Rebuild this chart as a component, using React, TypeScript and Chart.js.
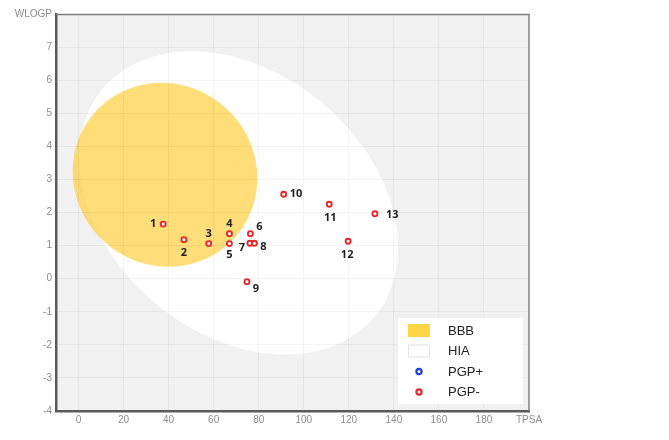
import React, { useEffect, useRef } from "react";
import { Chart, registerables } from "chart.js";

Chart.register(...registerables);

// ---- data ----
const COMPOUNDS = ["1", "2", "3", "4", "5", "6", "7", "8", "9", "10", "11", "12", "13"];
const TPSA = [37.6, 46.8, 57.8, 67.0, 67.0, 76.3, 76.1, 78.1, 74.8, 91.1, 111.3, 119.7, 131.6];
const WLOGP = [1.65, 1.18, 1.06, 1.36, 1.06, 1.36, 1.07, 1.07, -0.09, 2.55, 2.25, 1.13, 1.96];
const PGP_PLUS: { x: number; y: number }[] = [];

const X_TICKS = [0, 20, 40, 60, 80, 100, 120, 140, 160, 180, 200];
const X_TITLE_TICK = 200;
const Y_TITLE_TICK = 8;

// egg regions (center + two conjugate semi-axis vectors, data units)
const HIA_CENTER = [71.05, 2.29];
const HIA_U = [60.3, -3.45];
const HIA_V = [-37.2, -3.02];
const BBB_CENTER = [38.4, 3.14];
const BBB_U = [41.0, -0.106];
const BBB_V = [0, 2.78];

const LEGEND_LABELS = ["BBB", "HIA", "PGP+", "PGP-"];

// label placement (style): [dx, dy, align]
const LABEL_OFFSETS: [number, number, CanvasTextAlign][] = [
  [-10, 0, "center"],
  [0, 13, "center"],
  [0, -10, "center"],
  [0, -10, "center"],
  [0, 11, "center"],
  [9, -7, "center"],
  [-8, 5, "center"],
  [9, 4, "center"],
  [9, 7, "center"],
  [6, 0, "left"],
  [1, 14, "center"],
  [-1, 14, "center"],
  [11, 1, "left"],
];

const RED = "#e8262a";
const BLUE = "#1f3fe0";
const YOLK = "rgba(255, 204, 51, 0.66)";
const TICK_FONT = { family: "'Liberation Sans', Arial, sans-serif", size: 10 };

function drawEllipse(ctx: CanvasRenderingContext2D, xs: any, ys: any, c: number[], u: number[], v: number[], fill: string) {
  const cx = xs.getPixelForValue(c[0]);
  const cy = ys.getPixelForValue(c[1]);
  const ux = xs.getPixelForValue(c[0] + u[0]) - cx;
  const uy = ys.getPixelForValue(c[1] + u[1]) - cy;
  const vx = xs.getPixelForValue(c[0] + v[0]) - cx;
  const vy = ys.getPixelForValue(c[1] + v[1]) - cy;
  ctx.save();
  ctx.beginPath();
  ctx.transform(ux, uy, vx, vy, cx, cy);
  ctx.arc(0, 0, 1, 0, Math.PI * 2);
  ctx.restore();
  ctx.fillStyle = fill;
  ctx.fill();
}

const eggPlugin = {
  id: "egg",
  beforeDraw(chart: any) {
    const { ctx, chartArea: a, scales } = chart;
    ctx.save();
    ctx.fillStyle = "#f1f1f1";
    ctx.fillRect(a.left, a.top, a.right - a.left, a.bottom - a.top);
    ctx.beginPath();
    ctx.rect(a.left, a.top, a.right - a.left, a.bottom - a.top);
    ctx.clip();
    drawEllipse(ctx, scales.x, scales.y, HIA_CENTER, HIA_U, HIA_V, "#ffffff");
    drawEllipse(ctx, scales.x, scales.y, BBB_CENTER, BBB_U, BBB_V, YOLK);
    ctx.restore();
  },
  afterDatasetsDraw(chart: any) {
    const { ctx } = chart;
    const meta = chart.getDatasetMeta(0);
    ctx.save();
    ctx.font = "bold 11px 'Open Sans', 'DejaVu Sans', sans-serif";
    ctx.fillStyle = "#1e1e1e";
    ctx.textBaseline = "middle";
    meta.data.forEach((pt: any, i: number) => {
      const [dx, dy, align] = LABEL_OFFSETS[i];
      ctx.textAlign = align;
      ctx.fillText(COMPOUNDS[i], pt.x + dx, pt.y + dy);
    });
    ctx.restore();
  },
  afterDraw(chart: any) {
    const { ctx, chartArea: a } = chart;
    ctx.save();
    // top & right frame
    ctx.strokeStyle = "#808080";
    ctx.lineWidth = 1.5;
    ctx.beginPath();
    ctx.moveTo(a.left, a.top + 0.5);
    ctx.lineTo(a.right, a.top + 0.5);
    ctx.lineTo(a.right, a.bottom);
    ctx.stroke();

    // legend
    const w = 125, h = 86;
    const bx = a.right - 6 - w;
    const by = a.bottom - 7 - h;
    ctx.fillStyle = "#ffffff";
    ctx.fillRect(bx, by, w, h);
    const rowY = (i: number) => by + 12.5 + i * 20.5;
    const sx = bx + 10;
    ctx.fillStyle = "#ffd445";
    ctx.fillRect(sx, rowY(0) - 6.5, 22, 13);
    ctx.fillStyle = "#ffffff";
    ctx.fillRect(sx, rowY(1) - 6.5, 22, 13);
    ctx.strokeStyle = "#e2e2e2";
    ctx.lineWidth = 1;
    ctx.strokeRect(sx + 0.5, rowY(1) - 6, 21, 12);
    [BLUE, RED].forEach((col, k) => {
      ctx.beginPath();
      ctx.arc(sx + 11, rowY(2 + k), 2.6, 0, Math.PI * 2);
      ctx.fillStyle = "#ffffff";
      ctx.fill();
      ctx.strokeStyle = col;
      ctx.lineWidth = 2.2;
      ctx.stroke();
    });
    ctx.font = "13px 'Liberation Sans', Arial, sans-serif";
    ctx.fillStyle = "#222222";
    ctx.textAlign = "left";
    ctx.textBaseline = "middle";
    LEGEND_LABELS.forEach((t, i) => ctx.fillText(t, bx + 50, rowY(i) + 0.5));
    ctx.restore();
  },
};

export default function App() {
  const ref = useRef<HTMLCanvasElement | null>(null);
  useEffect(() => {
    if (!ref.current) return;
    const chart = new Chart(ref.current, {
      type: "scatter",
      data: {
        datasets: [
          {
            label: "PGP-",
            data: TPSA.map((t, i) => ({ x: t, y: WLOGP[i] })),
            pointRadius: 2.5,
            pointHoverRadius: 2.5,
            pointBorderWidth: 1.9,
            borderColor: RED,
            backgroundColor: "#ffffff",
          },
          {
            label: "PGP+",
            data: PGP_PLUS,
            pointRadius: 2.5,
            pointBorderWidth: 1.9,
            borderColor: BLUE,
            backgroundColor: "#ffffff",
          },
        ],
      },
      options: {
        responsive: false,
        animation: false,
        devicePixelRatio: 1,
        layout: { padding: { left: 0, top: 14, right: 140, bottom: 0 } },
        plugins: { legend: { display: false }, tooltip: { enabled: false } },
        scales: {
          x: {
            type: "linear",
            min: -10,
            max: 200,
            afterBuildTicks: (scale: any) => {
              scale.ticks = X_TICKS.map((v) => ({ value: v }));
            },
            afterFit: (scale: any) => {
              scale.height = 29;
            },
            grid: { color: "rgba(0,0,0,0.045)", drawTicks: false, lineWidth: 1 },
            border: { display: true, color: "#5a5a5a", width: 2.5 },
            ticks: {
              color: "#8c8c8c",
              font: TICK_FONT,
              padding: 3,
              maxRotation: 0,
              autoSkip: false,
              callback: (v: any) => (v === X_TITLE_TICK ? "TPSA" : String(v)),
            },
          },
          y: {
            type: "linear",
            min: -4,
            max: 8,
            ticks: {
              stepSize: 1,
              color: "#8c8c8c",
              font: TICK_FONT,
              padding: 4,
              callback: (v: any) => (v === Y_TITLE_TICK ? "WLOGP" : String(v)),
            },
            afterFit: (scale: any) => {
              scale.width = 56;
            },
            grid: { color: "rgba(0,0,0,0.045)", drawTicks: false, lineWidth: 1 },
            border: { display: true, color: "#5a5a5a", width: 2.5 },
          },
        },
      },
      plugins: [eggPlugin],
    });
    return () => chart.destroy();
  }, []);
  return (
    <div style={{ position: "absolute", left: 0, top: 0, width: 669, height: 440, background: "#fff" }}>
      <canvas ref={ref} width={669} height={440} />
    </div>
  );
}
